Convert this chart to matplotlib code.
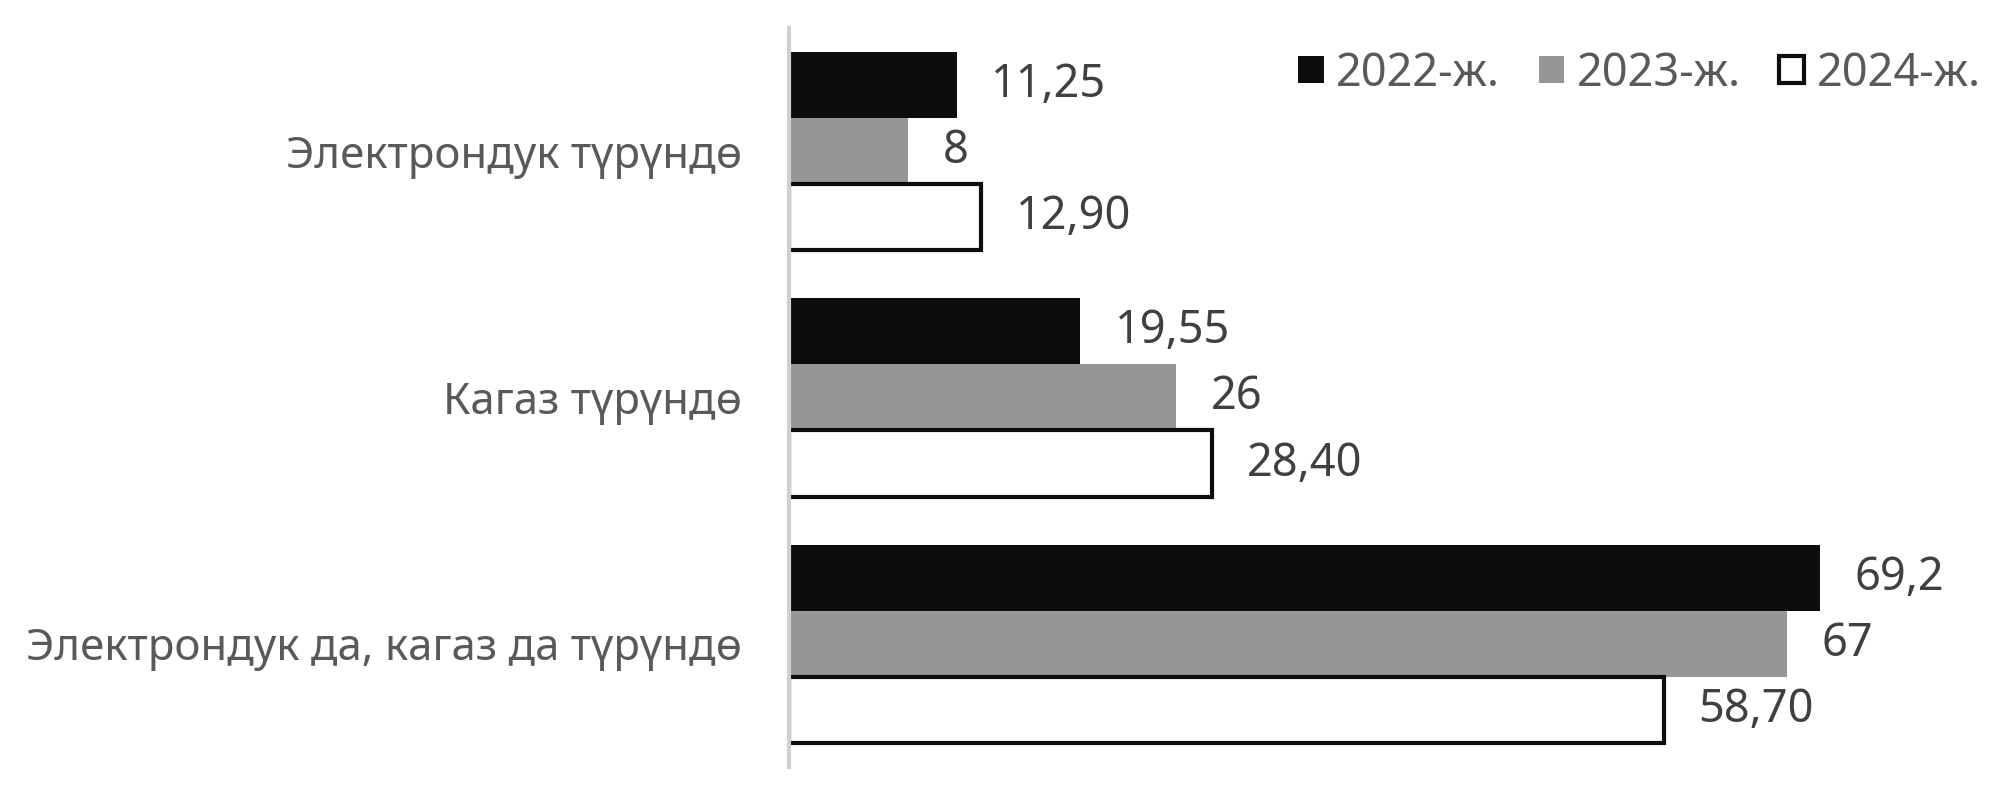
import matplotlib
matplotlib.use("Agg")
import matplotlib.pyplot as plt
import numpy as np

plt.rcParams['font.family'] = ['Noto Sans', 'DejaVu Sans']

# data
categories = ["Электрондук түрүндө", "Кагаз түрүндө", "Электрондук да, кагаз да түрүндө"]
years = ["2022-ж.", "2023-ж.", "2024-ж."]
v2022 = [11.25, 19.55, 69.2]
v2023 = [8, 26, 67]
v2024 = [12.90, 28.40, 58.70]
labels2022 = ["11,25", "19,55", "69,2"]
labels2023 = ["8", "26", "67"]
labels2024 = ["12,90", "28,40", "58,70"]

fig = plt.figure(figsize=(20.04, 8.07), dpi=100)
ax = fig.add_axes([0.3937, 0.0496, 0.5948, 0.9157])

y = np.arange(len(categories))
h = 0.268
series = [
    (v2022, labels2022, dict(color="#0d0d0d")),
    (v2023, labels2023, dict(color="#969696")),
    (v2024, labels2024, dict(color="white", edgecolor="#0d0d0d", linewidth=3)),
]
for i, (vals, labs, style) in enumerate(series):
    bars = ax.barh(y + (i - 1) * h, vals, height=h, label=years[i], **style)
    ax.bar_label(bars, labels=labs, padding=25, fontsize=32.5, color="#404040")

ax.set_ylim(2.5, -0.5)
ax.set_xlim(0, 80)
ax.set_yticks(y)
ax.set_yticklabels(categories, fontsize=31.5, color="#595959")
ax.tick_params(axis="y", length=0, pad=34)
ax.set_xticks([])
for s in ["top", "right", "bottom"]:
    ax.spines[s].set_visible(False)
ax.spines["left"].set_color("#d0d0d0")
ax.spines["left"].set_linewidth(3)

leg = ax.legend(loc="upper right", bbox_to_anchor=(1.019, 1.0), ncol=3, frameon=False,
                fontsize=32.5, handlelength=0.56, handleheight=0.56, handletextpad=0.28,
                columnspacing=0.85, borderaxespad=0.1)
for t in leg.get_texts():
    t.set_color("#595959")

fig.savefig("out.png", dpi=100)
